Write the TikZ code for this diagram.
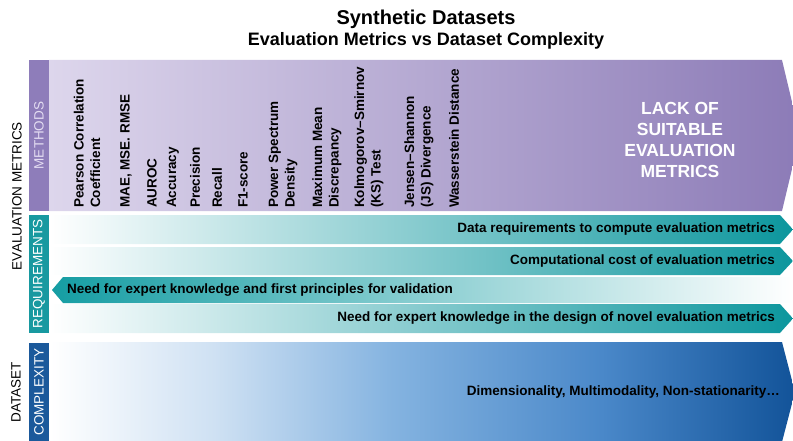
\documentclass[tikz,border=0pt]{standalone}
\usepackage{fontspec}
\setmainfont{Liberation Sans}
\usetikzlibrary{positioning}
\definecolor{methtab}{HTML}{8E7DBA}
\definecolor{methlight}{HTML}{DDD6EC}
\definecolor{methdark}{HTML}{8C7BB7}
\definecolor{methtext}{HTML}{E4DDF2}
\definecolor{reqtab}{HTML}{1899A0}
\definecolor{reqdark}{HTML}{0C969D}
\definecolor{reqleft}{HTML}{159DA3}
\definecolor{cxtab}{HTML}{1B599B}
\definecolor{cxpale}{HTML}{CFE1F3}
\definecolor{cxmid}{HTML}{84B3E0}
\definecolor{cxblue}{HTML}{4A88C9}
\definecolor{cxdark}{HTML}{125399}
\pgfdeclarehorizontalshading{cxshade}{100bp}{color(0bp)=(white); color(25bp)=(white);
  color(36bp)=(cxpale); color(48bp)=(cxmid); color(62bp)=(cxblue);
  color(75bp)=(cxdark); color(100bp)=(cxdark)}
\begin{document}
\begin{tikzpicture}[x=1pt,y=-1pt,
    metric/.style={rotate=90,anchor=west,align=left,inner sep=0pt,
      font=\bfseries\fontsize{13.5}{16.5}\selectfont},
    tablabel/.style={rotate=90,inner sep=0pt,font=\fontsize{13.5}{16}\selectfont},
    reqtext/.style={inner sep=0pt,font=\bfseries\fontsize{13.5}{16}\selectfont},
    reqrow/.style={left color=white,right color=reqdark}]
  \useasboundingbox (0,0) rectangle (793,441);
  \clip (0,0) rectangle (793,441);
  \node[inner sep=0pt,font=\bfseries\fontsize{20}{24}\selectfont] (title) at (426,19)
    {Synthetic Datasets};
  \node[inner sep=0pt,font=\bfseries\fontsize{18}{22}\selectfont,below=4pt of title]
    (subtitle) {Evaluation Metrics vs Dataset Complexity};
  \shade[left color=methlight,right color=methdark] (49,60) -- (782,60) -- (800,135.5)
    -- (782,211) -- (49,211) -- cycle;
  \fill[methtab] (29,60) rectangle (49,211);
  \shade[reqrow] (50,215) -- (780,215) -- (793,229.5) -- (780,244) -- (50,244) -- cycle;
  \shade[reqrow] (50,247) -- (780,247) -- (793,261) -- (780,275) -- (50,275) -- cycle;
  \shade[left color=reqleft,right color=white] (52,290) -- (63,277) -- (793,277)
    -- (793,303) -- (63,303) -- cycle;
  \shade[reqrow] (50,304) -- (780,304) -- (793,318.5) -- (780,333) -- (50,333) -- cycle;
  \fill[reqtab] (29,215) rectangle (49,333);
  \shade[shading=cxshade] (50,342) -- (782,342) -- (795,392) -- (782,442) -- (50,442)
    -- cycle;
  \fill[cxtab] (29,343) rectangle (49,442);
  \node[tablabel] (evalmetrics) at (17,196) {EVALUATION METRICS};
  \node[tablabel] (dataset) at (16,392) {DATASET};
  \node[tablabel,text=methtext] (methods) at (39,135.5) {METHODS};
  \node[tablabel,text=white] (requirements) at (39,274) {REQUIREMENTS};
  \node[tablabel,text=white] (complexity) at (39,392) {COMPLEXITY};
  \foreach \x/\txt [count=\i] in {87/{Pearson Correlation\\Coefficient},
      126/{MAE, MSE. RMSE}, 152/AUROC, 173/Accuracy, 195/Precision, 217/Recall,
      243/F1-score, 283/{Power Spectrum\\Density}, 327/{Maximum Mean\\Discrepancy},
      369/{Kolmogorov--Smirnov\\(KS) Test}, 419/{Jensen--Shannon\\(JS) Divergence},
      454/{Wasserstein Distance}}
    \node[metric] (m\i) at (\x,208) {\txt};
  \node[align=center,text=white,inner sep=0pt,
    font=\bfseries\fontsize{17.5}{21}\selectfont] (lack) at (680,140)
    {LACK OF\\SUITABLE\\EVALUATION\\METRICS};
  \node[reqtext,anchor=east] (req1) at (775,229.5)
    {Data requirements to compute evaluation metrics};
  \node[reqtext,anchor=east] (req2) at (775,261)
    {Computational cost of evaluation metrics};
  \node[reqtext,anchor=west] (req3) at (67,290)
    {Need for expert knowledge and first principles for validation};
  \node[reqtext,anchor=east] (req4) at (775,318.5)
    {Need for expert knowledge in the design of novel evaluation metrics};
  \node[reqtext,anchor=east] (cxtext) at (780,392)
    {Dimensionality, Multimodality, Non-stationarity\dots};
\end{tikzpicture}
\end{document}
